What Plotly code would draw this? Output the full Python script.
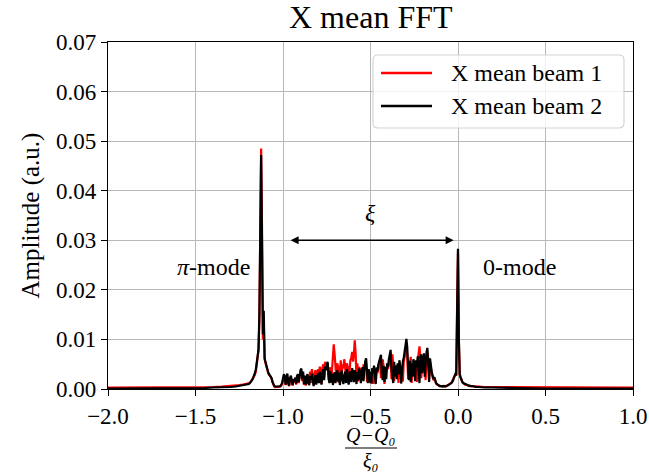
import numpy as np
import plotly.graph_objects as go

# ---------------------------------------------------------------------------
# Spectrum of the horizontal centroid vs normalised tune (Q - Q0) / xi0.
# Amplitudes are stored in units of 1e-4.
# ---------------------------------------------------------------------------

# low-resolution tail left of the pi-mode
tail_left_q = [-2.0, -1.9, -1.8, -1.7, -1.6, -1.5, -1.45, -1.4, -1.35, -1.3,
               -1.27, -1.25, -1.23, -1.21]
tail_left_beam1 = [3, 3, 3, 3, 3, 4, 4, 4, 5, 6, 7, 8, 9, 10]
tail_left_beam2 = [1, 1, 1, 1, 1, 2, 2, 3, 3, 4, 5, 6, 7, 8]

# full-resolution band, first bin at -1.20, bin width 0.005
fine_start = -1.20
fine_step = 0.005
fine_beam1 = [
    10, 11, 12, 14, 17, 19, 21, 25, 29, 36,
    48, 62, 78, 140, 380, 485, 330, 100, 130, 60,
    52, 44, 38, 33, 29, 27, 25, 20, 13, 8,
    5, 4, 4, 5, 4, 5, 4, 5, 7, 10,
    18, 24, 20, 8, 19, 25, 10, 6, 18, 22,
    15, 7, 17, 13, 19, 9, 22, 25, 12, 28,
    30, 34, 16, 29, 8, 22, 7, 20, 25, 10,
    20, 35, 12, 40, 30, 9, 26, 38, 14, 33,
    40, 16, 45, 36, 10, 42, 50, 22, 55, 44,
    45, 52, 18, 36, 44, 12, 48, 66, 90, 70,
    48, 20, 52, 44, 12, 46, 58, 24, 50, 42,
    60, 48, 15, 52, 44, 10, 50, 58, 62, 75,
    55, 70, 98, 72, 20, 52, 15, 45, 30, 38,
    42, 18, 50, 38, 45, 52, 14, 30, 36, 12,
    30, 22, 38, 10, 42, 34, 12, 40, 32, 44,
    50, 56, 22, 40, 60, 44, 10, 40, 34, 46,
    40, 52, 60, 66, 20, 70, 45, 16, 38, 44,
    30, 46, 12, 50, 40, 28, 38, 15, 55, 62,
    75, 82, 70, 20, 42, 50, 65, 12, 40, 52,
    44, 32, 50, 14, 58, 74, 86, 60, 22, 46,
    52, 64, 42, 18, 66, 75, 62, 20, 55, 40,
    30, 24, 18, 20, 13, 11, 9, 8, 7, 6,
    6, 6, 5, 5, 6, 5, 5, 6, 7, 8,
    9, 10, 12, 14, 17, 21, 26, 30, 27, 170,
    280, 95, 28, 22, 17, 14, 12, 10, 9, 9,
    8, 7, 7, 6, 6, 6, 5, 5, 5, 5,
]
fine_beam2 = [
    9, 10, 12, 14, 16, 19, 23, 27, 33, 40,
    52, 65, 80, 150, 420, 472, 300, 110, 158, 62,
    55, 46, 40, 34, 30, 28, 26, 22, 14, 9,
    6, 5, 5, 4, 5, 4, 5, 6, 8, 12,
    22, 30, 26, 9, 24, 31, 12, 7, 22, 27,
    18, 8, 20, 16, 23, 11, 26, 30, 14, 33,
    38, 41, 20, 35, 10, 27, 9, 24, 30, 12,
    8, 26, 19, 31, 12, 6, 20, 28, 9, 24,
    32, 12, 35, 27, 9, 30, 40, 18, 45, 38,
    50, 55, 30, 12, 36, 14, 31, 8, 27, 34,
    12, 29, 38, 15, 33, 8, 25, 37, 20, 10,
    28, 35, 12, 40, 31, 9, 27, 36, 14, 42,
    33, 14, 38, 30, 10, 34, 18, 41, 35, 12,
    36, 44, 16, 48, 56, 62, 25, 12, 40, 15,
    35, 11, 42, 31, 47, 18, 10, 44, 36, 50,
    58, 64, 69, 30, 18, 47, 14, 45, 20, 52,
    44, 60, 71, 79, 40, 22, 12, 55, 25, 48,
    20, 52, 30, 58, 46, 11, 44, 56, 63, 72,
    88, 101, 84, 40, 18, 57, 14, 52, 25, 60,
    51, 16, 58, 44, 66, 35, 12, 63, 70, 32,
    60, 72, 25, 65, 74, 83, 45, 14, 62, 45,
    35, 27, 20, 24, 15, 12, 10, 8, 7, 6,
    6, 5, 5, 6, 5, 5, 6, 6, 7, 8,
    9, 10, 11, 13, 16, 20, 25, 30, 28, 180,
    283, 100, 30, 24, 18, 14, 12, 11, 10, 9,
    8, 8, 7, 7, 6, 6, 6, 5, 5, 5,
]

# low-resolution tail right of the 0-mode
tail_right_q = [0.10, 0.12, 0.15, 0.2, 0.3, 0.4, 0.5, 0.6, 0.7, 0.8, 0.9, 1.0]
tail_right_beam1 = [5, 5, 4, 4, 3, 3, 3, 3, 3, 3, 3, 3]
tail_right_beam2 = [4, 4, 3, 3, 2, 2, 1, 1, 1, 1, 1, 1]

AMP_UNIT = 1e-4

x_ticks = [-2.0, -1.5, -1.0, -0.5, 0.0, 0.5, 1.0]
y_ticks = [0.00, 0.01, 0.02, 0.03, 0.04, 0.05, 0.06, 0.07]

# annotation anchors (data coordinates)
xi_arrow = (-0.965, -0.025, 0.030)
xi_label = (-0.5, 0.0355)
pi_label = (-1.40, 0.0246)
zero_label = (0.35, 0.0246)


def spectrum(fine_vals, left_vals, right_vals):
    fine_q = fine_start + fine_step * np.arange(len(fine_vals))
    q = np.concatenate([tail_left_q, fine_q, tail_right_q])
    a = np.concatenate([left_vals, fine_vals, right_vals]) * AMP_UNIT
    return q, a


q1, a1 = spectrum(fine_beam1, tail_left_beam1, tail_right_beam1)
q2, a2 = spectrum(fine_beam2, tail_left_beam2, tail_right_beam2)

# ---------------------------------------------------------------------------
# Figure geometry (pixels)
# ---------------------------------------------------------------------------
W, H = 649, 475
L, R, T, B = 108, 633, 42, 389
FONT = "Liberation Serif"


def px(xp):
    return (xp - L) / (R - L)


def py(yp):
    return (B - yp) / (B - T)


fig = go.Figure()
fig.add_trace(go.Scatter(x=q1, y=a1, mode="lines", name="X mean beam 1",
                         line=dict(color="#ff0000", width=2.2), showlegend=False))
fig.add_trace(go.Scatter(x=q2, y=a2, mode="lines", name="X mean beam 2",
                         line=dict(color="#000000", width=2.2), showlegend=False))

axis_common = dict(
    showgrid=True, gridcolor="#b8b8b8", gridwidth=1.4,
    showline=True, linecolor="black", linewidth=1.4, mirror=True,
    ticks="outside", ticklen=6, tickwidth=1.4, tickcolor="black",
    zeroline=False, automargin=False,
    tickfont=dict(family=FONT, size=23, color="black"),
)
fig.update_xaxes(range=[-2.0, 1.0], tickvals=x_ticks, tickformat=".1f", **axis_common)
fig.update_yaxes(range=[0.0, 0.07], tickvals=y_ticks, tickformat=".2f", **axis_common)

annotations = []
shapes = []

# title
annotations.append(dict(text="X mean FFT", xref="paper", yref="paper", x=0.5, y=1,
                        xanchor="center", yanchor="bottom", yshift=5, showarrow=False,
                        font=dict(family=FONT, size=32, color="black")))
# y-axis label
annotations.append(dict(text="Amplitude (a.u.)", xref="paper", yref="paper",
                        x=px(30), y=0.5, xanchor="center", yanchor="middle",
                        textangle=-90, showarrow=False,
                        font=dict(family=FONT, size=25, color="black")))
# x-axis label: stacked fraction, numerator above and denominator below the bar
frac_font = dict(family=FONT, size=20, color="black", style="italic")
annotations.append(dict(text="Q−Q₀", xref="x", yref="paper",
                        x=-0.5, y=py(447), xanchor="center", yanchor="bottom",
                        borderpad=0, showarrow=False, font=frac_font))
annotations.append(dict(text="ξ₀", xref="x", yref="paper",
                        x=-0.5, y=py(449), xanchor="center", yanchor="top",
                        borderpad=0, showarrow=False, font=frac_font))
shapes.append(dict(type="line", xref="paper", yref="paper", x0=px(345), x1=px(397),
                   y0=py(448), y1=py(448), line=dict(color="black", width=1.2)))

# xi arrow and mode labels
annotations.append(dict(text="", xref="x", yref="y", axref="x", ayref="y",
                        x=xi_arrow[1], y=xi_arrow[2], ax=xi_arrow[0], ay=xi_arrow[2],
                        showarrow=True, arrowhead=2, arrowside="end+start",
                        arrowsize=1.0, arrowwidth=1.6, arrowcolor="black"))
annotations.append(dict(text="<i>ξ</i>", xref="x", yref="y", x=xi_label[0], y=xi_label[1],
                        showarrow=False, font=dict(family=FONT, size=24, color="black")))
annotations.append(dict(text="<i>π</i>-mode", xref="x", yref="y", x=pi_label[0],
                        y=pi_label[1], showarrow=False,
                        font=dict(family=FONT, size=24, color="black")))
annotations.append(dict(text="0-mode", xref="x", yref="y", x=zero_label[0],
                        y=zero_label[1], showarrow=False,
                        font=dict(family=FONT, size=24, color="black")))

# legend box with rounded corners
bx0, bx1, by0, by1, rad = 373, 624, 55, 128, 5


def pt(xp, yp):
    return f"{px(xp):.5f},{py(yp):.5f}"


path = (f"M{pt(bx0 + rad, by0)} L{pt(bx1 - rad, by0)} Q{pt(bx1, by0)} {pt(bx1, by0 + rad)} "
        f"L{pt(bx1, by1 - rad)} Q{pt(bx1, by1)} {pt(bx1 - rad, by1)} "
        f"L{pt(bx0 + rad, by1)} Q{pt(bx0, by1)} {pt(bx0, by1 - rad)} "
        f"L{pt(bx0, by0 + rad)} Q{pt(bx0, by0)} {pt(bx0 + rad, by0)} Z")
shapes.append(dict(type="path", xref="paper", yref="paper", path=path,
                   fillcolor="rgba(255,255,255,0.8)", line=dict(color="#d4d4d4", width=1.2),
                   layer="above"))
legend_rows = [("X mean beam 1", "#ff0000", 73), ("X mean beam 2", "#000000", 106)]
for label, color, yrow in legend_rows:
    shapes.append(dict(type="line", xref="paper", yref="paper", x0=px(381), x1=px(432),
                       y0=py(yrow), y1=py(yrow), line=dict(color=color, width=2.4),
                       layer="above"))
    annotations.append(dict(text=label, xref="paper", yref="paper", x=px(449), y=py(yrow),
                            xanchor="left", yanchor="middle", showarrow=False,
                            font=dict(family=FONT, size=24, color="black")))

fig.update_layout(
    width=W, height=H,
    margin=dict(l=L, r=W - R, t=T, b=H - B, pad=0),
    paper_bgcolor="white", plot_bgcolor="white",
    font=dict(family=FONT, color="black"),
    annotations=annotations, shapes=shapes,
    showlegend=False,
)

fig.write_html("out.html")
